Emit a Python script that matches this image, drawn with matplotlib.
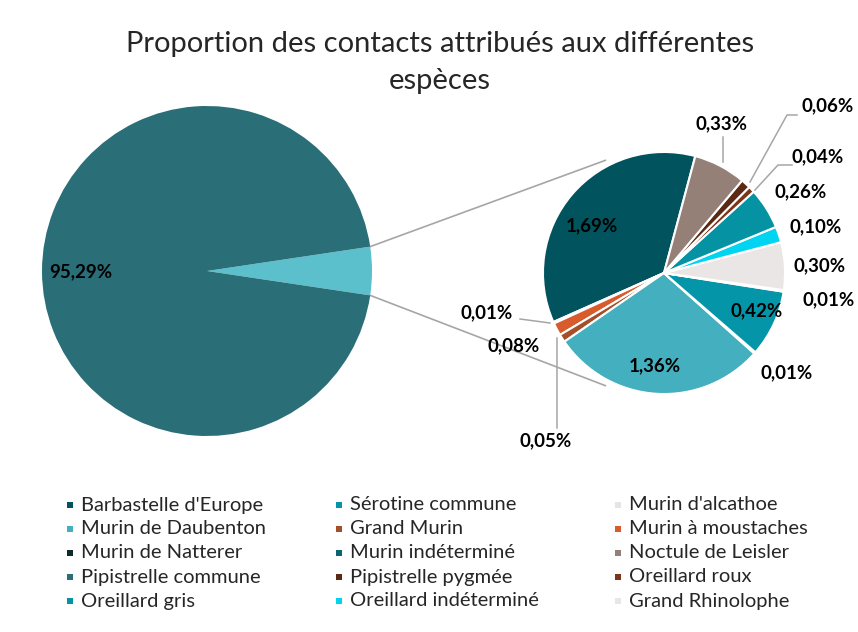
import matplotlib.pyplot as plt
import numpy as np

# Share of bat contacts by species (%)
species = ["Barbastelle d'Europe", "Sérotine commune", "Murin d'alcathoe",
           "Murin de Daubenton", "Grand Murin", "Murin à moustaches",
           "Murin de Natterer", "Murin indéterminé", "Noctule de Leisler",
           "Pipistrelle commune", "Pipistrelle pygmée", "Oreillard roux",
           "Oreillard gris", "Oreillard indéterminé", "Grand Rhinolophe"]
shares = [1.69, 0.42, 0.01, 1.36, 0.05, 0.08, 0.01, 0.01, 0.33,
          95.29, 0.06, 0.04, 0.26, 0.10, 0.30]
colors = ["#01535E", "#0495A8", "#E8E4E4", "#44AFBE", "#A44E2A", "#D75B2C",
          "#0E2C2E", "#0C6470", "#958078", "#2A6E78", "#5C2A14", "#7E3418",
          "#0592A3", "#00D4F0", "#EAE6E5"]

main_species = "Pipistrelle commune"
other_color = "#5BC0CC"

# slice order of the small pie, counter-clockwise
second_order = ["Barbastelle d'Europe", "Murin de Natterer", "Murin à moustaches",
                "Grand Murin", "Murin de Daubenton", "Murin d'alcathoe",
                "Sérotine commune", "Murin indéterminé", "Grand Rhinolophe",
                "Oreillard indéterminé", "Oreillard gris", "Oreillard roux",
                "Pipistrelle pygmée", "Noctule de Leisler"]

W, H = 858, 632
FONT = "Lato"
LEAD = "#A6A6A6"


def Y(y):
    return H - y


def pct(v):
    return f"{v:.2f}%".replace(".", ",")


val = dict(zip(species, shares))
col = dict(zip(species, colors))

fig = plt.figure(figsize=(W / 100, H / 100), dpi=100)
ax = fig.add_axes([0, 0, 1, 1])

# main pie: Pipistrelle commune vs. the rest
main_c = (207, Y(271))
main_r = 165
other = sum(val[s] for s in second_order)
half = other / (other + val[main_species]) * 180
ax.pie([other, val[main_species]], colors=[other_color, col[main_species]],
       center=main_c, radius=main_r, startangle=-half, counterclock=True,
       wedgeprops=dict(linewidth=0))
ax.text(81, Y(272), pct(val[main_species]), ha="center", va="center",
        fontsize=13.5, fontweight="bold", family=FONT)

# secondary pie with the remaining species
sec_c = (664, Y(273))
sec_r = 121
sec_vals = [val[s] for s in second_order]
ax.pie(sec_vals, colors=[col[s] for s in second_order], center=sec_c,
       radius=sec_r, startangle=75, counterclock=True,
       explode=[0.03] * len(sec_vals),
       wedgeprops=dict(linewidth=1.5, edgecolor="white"))

# connector lines between the two pies
for sgn in (1, -1):
    a0 = np.deg2rad(sgn * half)
    a1 = np.deg2rad(180 - sgn * 62.5)
    p0 = (main_c[0] + main_r * np.cos(a0), main_c[1] + main_r * np.sin(a0))
    p1 = (sec_c[0] + 127 * np.cos(a1), sec_c[1] + 127 * np.sin(a1))
    ax.plot([p0[0], p1[0]], [p0[1], p1[1]], color=LEAD, lw=1.2, zorder=0)

label_pos = {
    "Barbastelle d'Europe": (592, 226),
    "Murin de Daubenton": (655, 366),
    "Sérotine commune": (757, 311),
    "Noctule de Leisler": (722, 124),
    "Pipistrelle pygmée": (828, 106),
    "Oreillard roux": (818, 157),
    "Oreillard gris": (801, 192),
    "Oreillard indéterminé": (816, 227),
    "Grand Rhinolophe": (820, 266),
    "Murin indéterminé": (829, 300),
    "Murin d'alcathoe": (787, 373),
    "Murin de Natterer": (487, 313),
    "Murin à moustaches": (514, 346),
    "Grand Murin": (546, 441),
}
leaders = {
    "Noctule de Leisler": [(723, 137), (723, 162)],
    "Pipistrelle pygmée": [(797, 115), (787, 115), (750, 182)],
    "Oreillard roux": [(792, 165), (778, 165), (755, 190)],
    "Murin de Natterer": [(520, 319), (550, 323)],
    "Grand Murin": [(557, 428), (557, 338)],
}
for s in second_order:
    x, y = label_pos[s]
    ax.text(x, Y(y), pct(val[s]), ha="center", va="center", fontsize=13.5,
            fontweight="bold", family=FONT, color="black")
for s, pts in leaders.items():
    xs = [p[0] for p in pts]
    ys = [Y(p[1]) for p in pts]
    ax.plot(xs, ys, color=LEAD, lw=1.1)

# title
ax.text(440, Y(44), "Proportion des contacts attribués aux différentes",
        ha="center", va="center", fontsize=21, family=FONT, color="#262626")
ax.text(440, Y(81), "espèces", ha="center", va="center", fontsize=21,
        family=FONT, color="#262626")

# legend, three columns filled row by row
col_x = [70, 339, 618]
row_y = [505, 529, 553, 577, 601]
for i, s in enumerate(species):
    x = col_x[i % 3]
    y = row_y[i // 3]
    ax.scatter([x], [Y(y)], marker="s", s=24, color=col[s], linewidths=0)
    ax.text(x + 11, Y(y), s, ha="left", va="center", fontsize=14.5,
            family=FONT, color="#262626")

ax.set_xlim(0, W)
ax.set_ylim(0, H)
ax.set_aspect("equal")
ax.axis("off")

fig.savefig("out.png", dpi=100)
